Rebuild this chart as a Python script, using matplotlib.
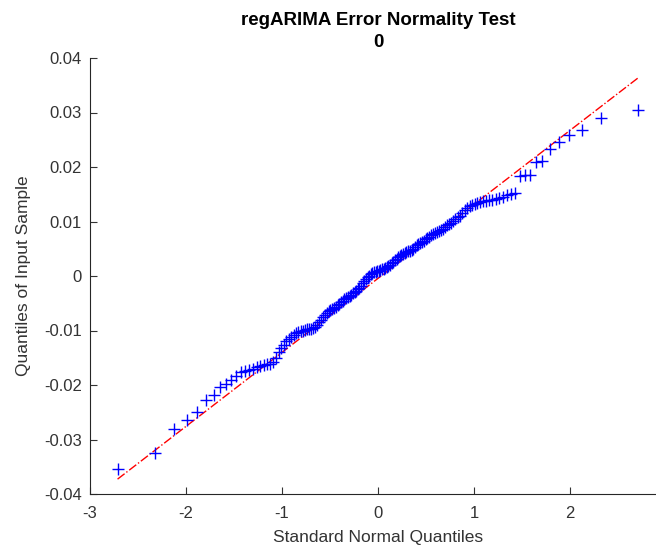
import matplotlib
matplotlib.use("Agg")
import matplotlib.pyplot as plt
import numpy as np
from statistics import NormalDist

plt.rcParams['font.family'] = ['Liberation Sans', 'DejaVu Sans']
plt.rcParams['axes.unicode_minus'] = False

# sorted regARIMA residuals
residuals_low = [
    -0.0355, -0.0324, -0.0281, -0.0265, -0.0250, -0.0228, -0.0219, -0.0204, -0.0198, -0.0191,
    -0.0183, -0.0177, -0.0175, -0.0172, -0.0170, -0.0167, -0.0165, -0.0164, -0.0162, -0.0161,
    -0.0158, -0.0150, -0.0140, -0.0132, -0.0126, -0.0120, -0.0116, -0.0112, -0.0109, -0.0105,
    -0.0102, -0.0101, -0.0100, -0.0099, -0.0098, -0.0097, -0.0097, -0.0096, -0.0093, -0.0089,
    -0.0085, -0.0080, -0.0076, -0.0072, -0.0068, -0.0065, -0.0062, -0.0060, -0.0058, -0.0056,
    -0.0053, -0.0051, -0.0048, -0.0045, -0.0043, -0.0041, -0.0039, -0.0037, -0.0035, -0.0032,
    -0.0030, -0.0027, -0.0024, -0.0022, -0.0018, -0.0013, -0.0009, -0.0005, -0.0002, 0.0000,
    0.0003, 0.0005, 0.0007, 0.0008, 0.0009,
]
residuals_high = [
    0.0010, 0.0011, 0.0012, 0.0013, 0.0014, 0.0016, 0.0018, 0.0021, 0.0024, 0.0026,
    0.0029, 0.0032, 0.0034, 0.0037, 0.0039, 0.0040, 0.0042, 0.0044, 0.0045, 0.0046,
    0.0048, 0.0050, 0.0053, 0.0056, 0.0058, 0.0060, 0.0063, 0.0065, 0.0068, 0.0070,
    0.0072, 0.0075, 0.0077, 0.0079, 0.0081, 0.0083, 0.0085, 0.0087, 0.0090, 0.0093,
    0.0095, 0.0098, 0.0101, 0.0104, 0.0108, 0.0111, 0.0116, 0.0121, 0.0125, 0.0128,
    0.0130, 0.0132, 0.0134, 0.0136, 0.0137, 0.0138, 0.0139, 0.0140, 0.0141, 0.0143,
    0.0145, 0.0148, 0.0150, 0.0153, 0.0184, 0.0185, 0.0185, 0.0210, 0.0211, 0.0233,
    0.0246, 0.0259, 0.0268, 0.0290, 0.0305,
]
residuals = np.array(residuals_low + residuals_high)

title_lines = ["regARIMA Error Normality Test", "0"]
xticks = [-3, -2, -1, 0, 1, 2]   # the "3" tick falls outside the saved image
yticks = [-0.04, -0.03, -0.02, -0.01, 0, 0.01, 0.02, 0.03, 0.04]

# theoretical normal quantiles, like MATLAB qqplot
n = len(residuals)
y = np.sort(residuals)
x = np.array([NormalDist().inv_cdf((i + 0.5) / n) for i in range(n)])

# reference line through the first and third quartiles
q1x, q3x = np.percentile(x, [25, 75])
q1y, q3y = np.percentile(y, [25, 75])
slope = (q3y - q1y) / (q3x - q1x)
xl = np.array([x.min(), x.max()])
yl = q1y + slope * (xl - q1x)

fig = plt.figure(figsize=(6.56, 5.52), dpi=100)
# axes runs from x=-3 to x=3, right part is cropped off like the original
ax = fig.add_axes([90 / 656, 58 / 552, 576 / 656, 436 / 552])

ax.plot(xl, yl, color='red', linestyle='-.', linewidth=1)
ax.plot(x, y, '+', color='blue', markersize=9, markeredgewidth=1)

ax.set_xlim(-3, 3)
ax.set_ylim(-0.04, 0.04)
ax.set_xticks(xticks)
ax.set_yticks(yticks)
ax.set_xticklabels([f"{t:g}" for t in xticks])
ax.set_yticklabels([f"{t:g}" for t in yticks])
ax.tick_params(direction='in', length=5, labelsize=12, colors='#333333', width=0.8)
ax.tick_params(axis='x', pad=9)
ax.tick_params(axis='y', pad=6)
for s in ['top', 'right']:
    ax.spines[s].set_visible(False)
for s in ['left', 'bottom']:
    ax.spines[s].set_color('#262626')
    ax.spines[s].set_linewidth(0.8)

ax.set_xlabel('Standard Normal Quantiles', fontsize=12.5, color='#333333', labelpad=6)
ax.set_ylabel('Quantiles of Input Sample', fontsize=12.5, color='#333333', labelpad=9)
ax.set_title("\n".join(title_lines), fontsize=13.5, fontweight='bold', color='black',
             pad=8, linespacing=1.4)

fig.savefig('out.png', dpi=100)
